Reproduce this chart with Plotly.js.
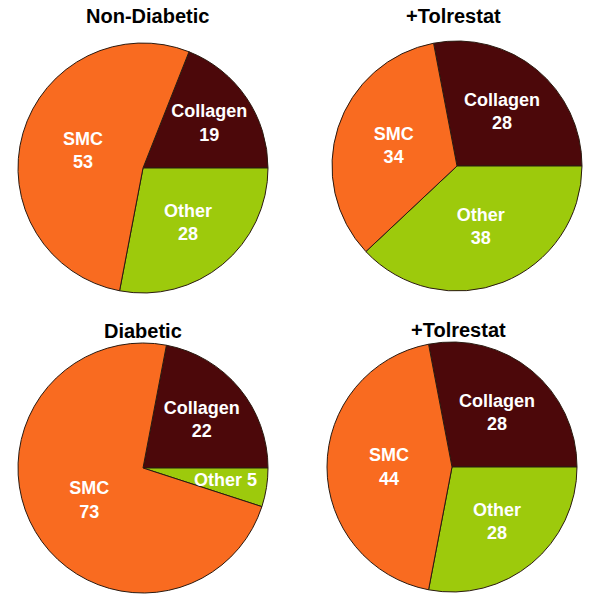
<!DOCTYPE html>
<html>
<head>
<meta charset="utf-8">
<script src="https://cdn.plot.ly/plotly-3.0.1.min.js"></script>
<style>html,body{margin:0;padding:0;background:#fff;}#chart{width:600px;height:596px;}</style>
</head>
<body>
<div id="chart"></div>
<script>
// Data
const categories = ['Collagen', 'Other', 'SMC'];
const panelTitles = ['Non-Diabetic', '+Tolrestat', 'Diabetic', '+Tolrestat'];
const nonDiabetic = [19, 28, 53];
const nonDiabeticTolrestat = [28, 38, 34];
const diabetic = [22, 5, 73];
const diabeticTolrestat = [28, 28, 44];

const seriesList = [nonDiabetic, nonDiabeticTolrestat, diabetic, diabeticTolrestat];
const colors = ['#4c080a', '#9dca0c', '#f96b20'];

// Layout geometry (pixels)
const W = 600, H = 596;
const boxes = [
  {x0: 18, x1: 268, y0: 43, y1: 293},
  {x0: 332, x1: 582, y0: 41, y1: 291},
  {x0: 18, x1: 268, y0: 343, y1: 593},
  {x0: 327, x1: 577, y0: 342, y1: 592}
];
const titlePos = [[147, 16], [453, 16], [143, 331], [458, 330]];
const FONT = '"Liberation Sans", Arial, sans-serif';

const data = seriesList.map((vals, i) => {
  const b = boxes[i];
  const total = vals.reduce((a, c) => a + c, 0);
  // the tiny "Other 5" slice carries its label as an annotation (too narrow for inside text)
  const tpos = vals.map(v => (v / total < 0.1) ? 'none' : 'inside');
  return {
    type: 'pie',
    labels: categories,
    values: vals,
    sort: false,
    direction: 'clockwise',
    rotation: 90 - 360 * vals[0] / total,
    marker: {colors: colors, line: {color: '#2a1a10', width: 1}},
    texttemplate: '%{label}<br>%{value}',
    textposition: tpos,
    insidetextorientation: 'horizontal',
    insidetextfont: {family: FONT, size: 18, color: '#ffffff', weight: 'bold'},
    hoverinfo: 'label+value',
    showlegend: false,
    domain: {x: [b.x0 / W, b.x1 / W], y: [1 - b.y1 / H, 1 - b.y0 / H]}
  };
});

const annotations = panelTitles.map((t, i) => ({
  text: t,
  x: titlePos[i][0] / W, y: 1 - titlePos[i][1] / H,
  xref: 'paper', yref: 'paper', xanchor: 'center', yanchor: 'middle',
  showarrow: false,
  font: {family: FONT, size: 20, color: '#000', weight: 'bold'}
}));
// label for the small Diabetic "Other" slice
annotations.push({
  text: categories[1] + ' ' + diabetic[1],
  x: 225 / W, y: 1 - 480 / H,
  xref: 'paper', yref: 'paper', xanchor: 'center', yanchor: 'middle',
  showarrow: false,
  font: {family: FONT, size: 18, color: '#ffffff', weight: 'bold'}
});

const layout = {
  width: W, height: H,
  margin: {l: 0, r: 0, t: 0, b: 0},
  paper_bgcolor: '#fff',
  annotations: annotations
};

Plotly.newPlot('chart', data, layout, {displayModeBar: false, staticPlot: true});
</script>
</body>
</html>
